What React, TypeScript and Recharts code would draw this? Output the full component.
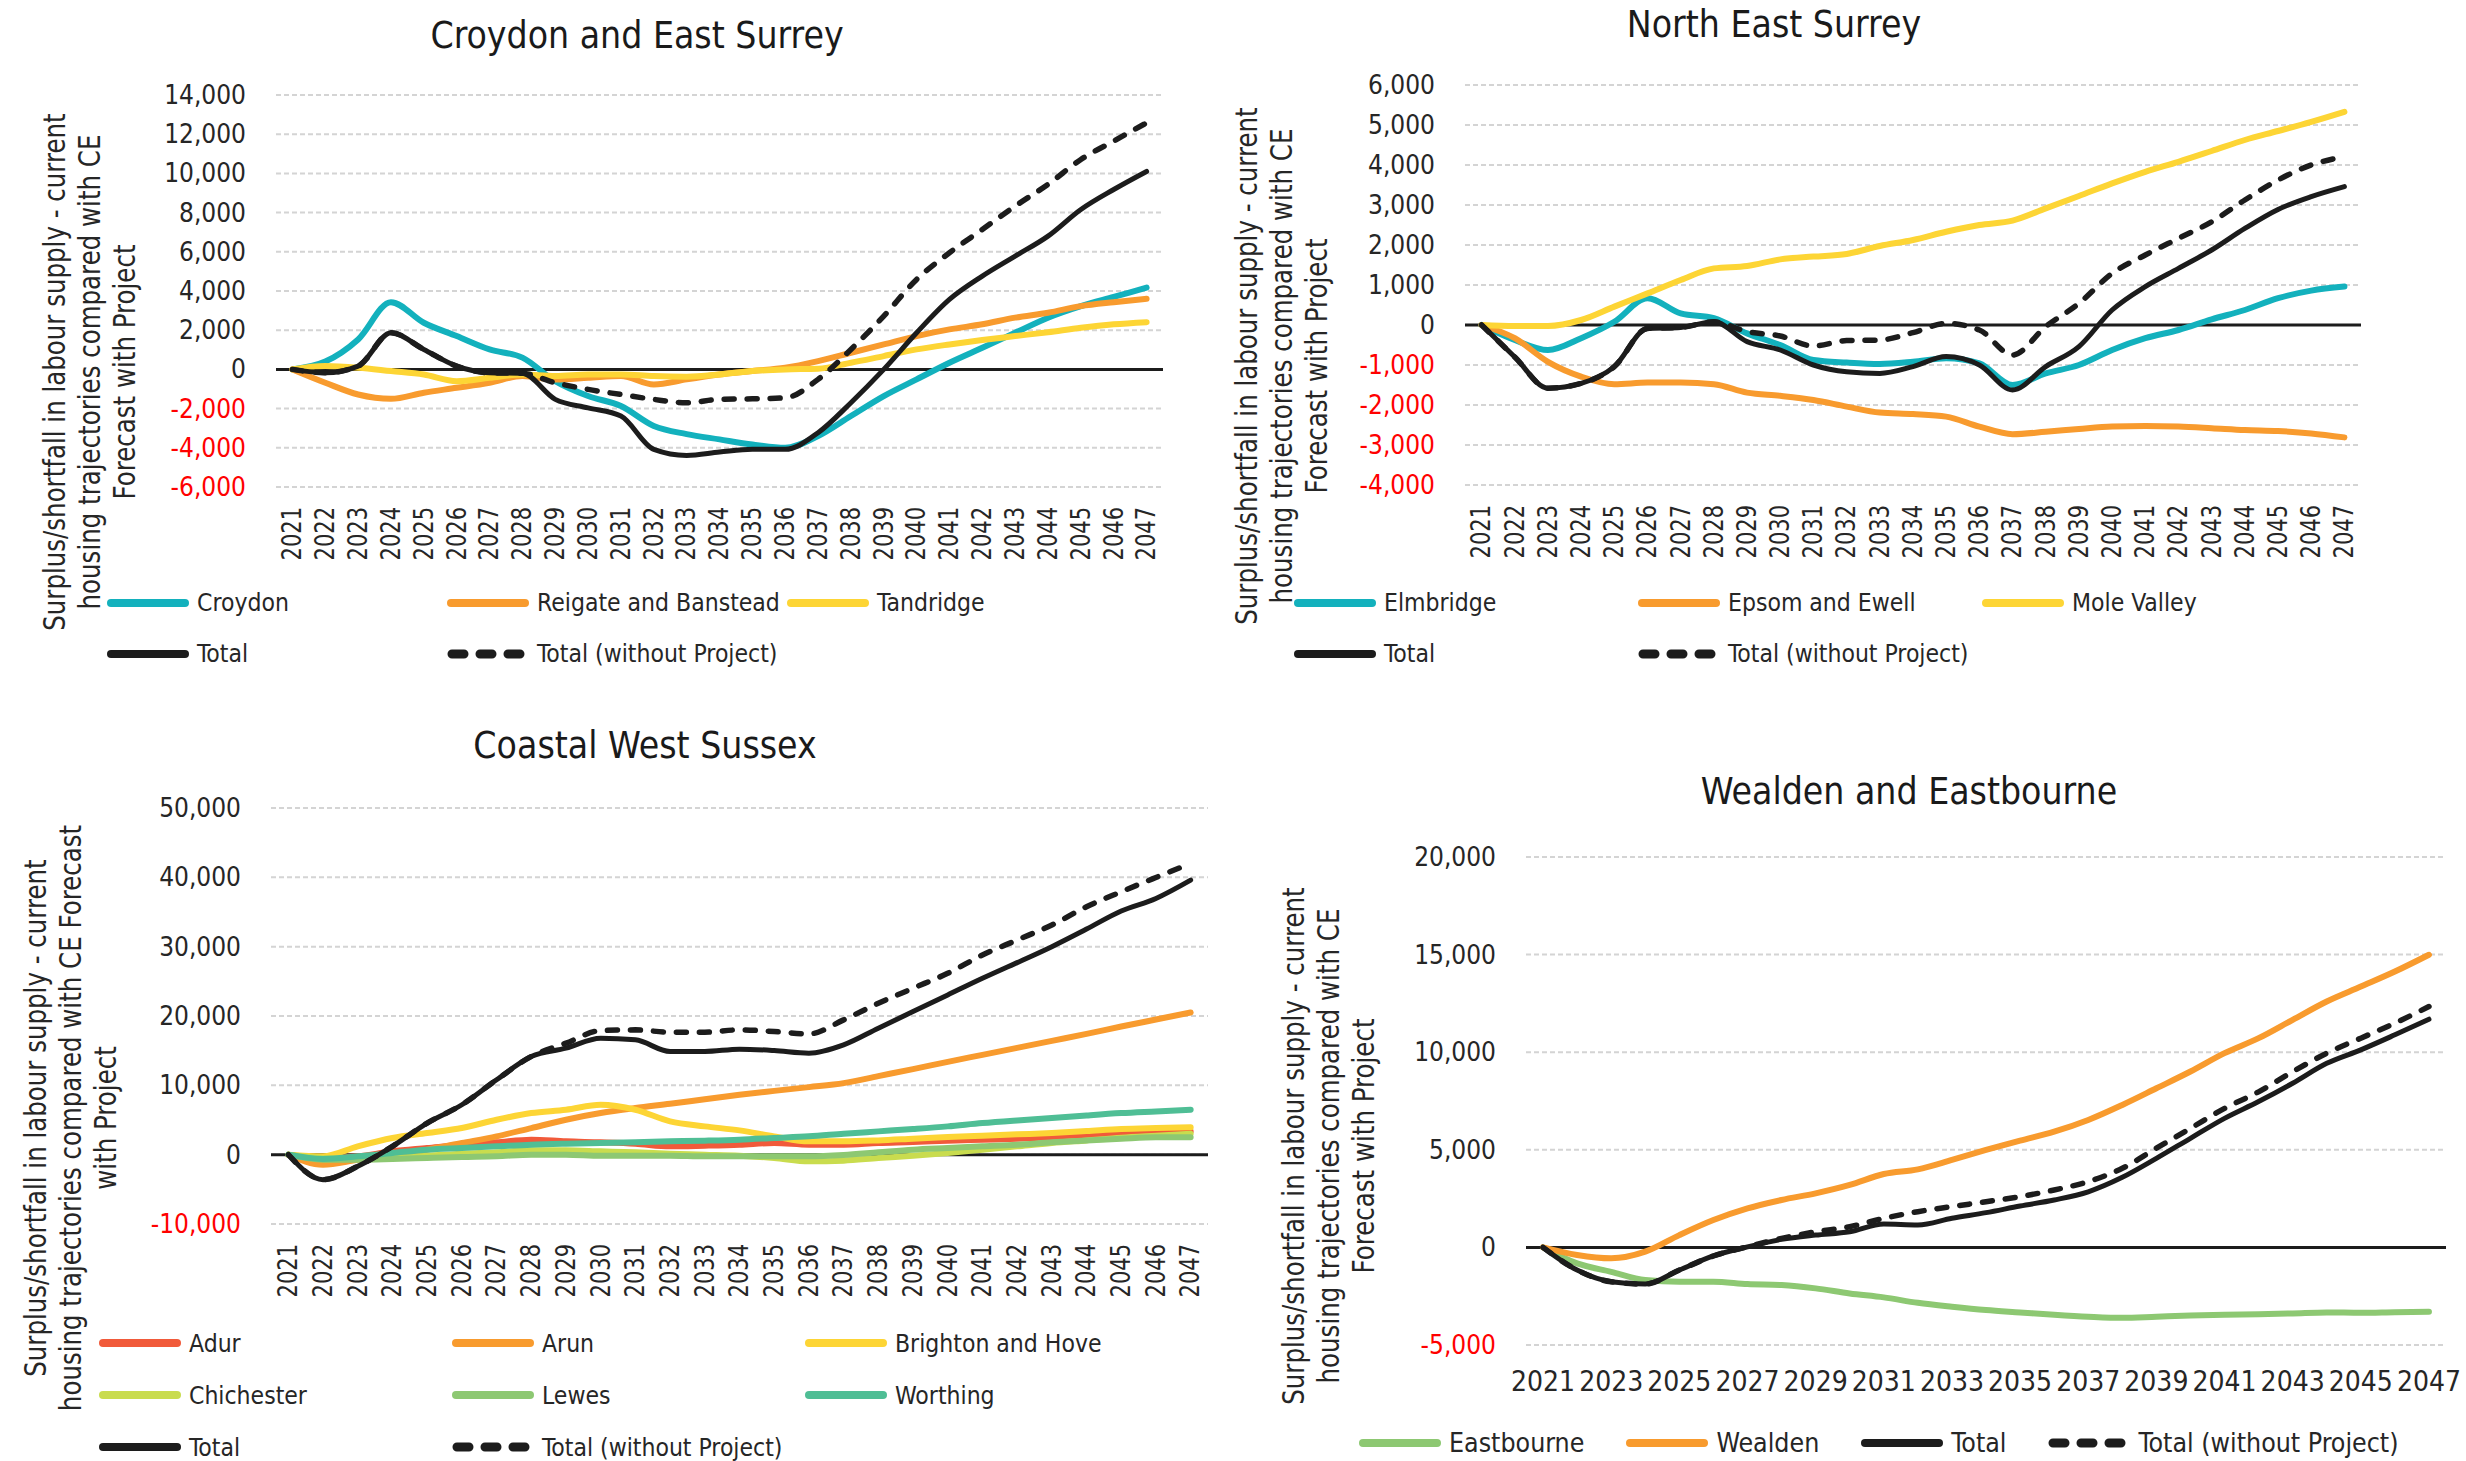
import React from "react";
import { LineChart, Line, XAxis, YAxis, CartesianGrid, ReferenceLine } from "recharts";

const YEARS = [
  "2021", "2022", "2023", "2024", "2025", "2026", "2027", "2028", "2029",
  "2030", "2031", "2032", "2033", "2034", "2035", "2036", "2037", "2038",
  "2039", "2040", "2041", "2042", "2043", "2044", "2045", "2046", "2047",
];

// Croydon and East Surrey
const CROYDON = [0, 400, 1530, 3430, 2380, 1700, 1020, 600, -600, -1360, -1870, -2890, -3300, -3570, -3830, -4000, -3400, -2380, -1360, -510, 340, 1100, 1870, 2640, 3230, 3700, 4170];
const REIGATE = [0, -680, -1280, -1500, -1190, -940, -680, -340, -510, -430, -340, -770, -510, -260, -85, 85, 425, 850, 1275, 1700, 2040, 2300, 2640, 2890, 3230, 3430, 3600];
const TANDRIDGE = [0, 170, 85, -85, -260, -600, -430, -260, -340, -260, -260, -340, -370, -260, -85, 0, 35, 340, 680, 1020, 1275, 1500, 1700, 1900, 2125, 2300, 2410];
const CES_TOTAL = [0, -170, 170, 1870, 1020, 170, -170, -200, -1530, -1960, -2380, -4080, -4390, -4220, -4080, -4080, -3230, -1700, 0, 1870, 3570, 4760, 5780, 6800, 8160, 9180, 10100];
const CES_NOPROJ = [0, -170, 170, 1870, 1020, 170, -170, -200, -680, -1020, -1280, -1530, -1700, -1530, -1500, -1450, -510, 1020, 2720, 4590, 5950, 7140, 8330, 9440, 10710, 11650, 12580];
const CES_TICKS = [-6000, -4000, -2000, 0, 2000, 4000, 6000, 8000, 10000, 12000, 14000];

// North East Surrey
const ELMBRIDGE = [0, -375, -625, -330, 80, 670, 290, 170, -210, -500, -875, -940, -975, -920, -830, -960, -1500, -1210, -1000, -625, -330, -125, 140, 375, 670, 860, 960];
const EPSOM = [0, -330, -920, -1290, -1480, -1440, -1440, -1480, -1690, -1770, -1875, -2040, -2190, -2225, -2290, -2540, -2730, -2670, -2600, -2540, -2525, -2540, -2580, -2625, -2650, -2710, -2810];
const MOLE_VALLEY = [0, -25, -25, 125, 460, 790, 1125, 1415, 1475, 1640, 1710, 1775, 1975, 2125, 2330, 2500, 2610, 2915, 3225, 3540, 3830, 4080, 4350, 4625, 4850, 5080, 5330];
const NES_TOTAL = [0, -800, -1580, -1460, -1040, -85, -60, 80, -415, -625, -1000, -1170, -1210, -1040, -790, -1000, -1625, -1040, -540, 375, 960, 1415, 1875, 2415, 2890, 3210, 3460];
const NES_NOPROJ = [0, -800, -1580, -1460, -1040, -85, -60, 80, -165, -275, -525, -390, -375, -190, 40, -125, -750, -40, 540, 1290, 1750, 2165, 2580, 3125, 3625, 4000, 4210];
const NES_TICKS = [-4000, -3000, -2000, -1000, 0, 1000, 2000, 3000, 4000, 5000, 6000];

// Coastal West Sussex
const ADUR = [0, -480, -240, 480, 960, 1440, 1780, 2160, 1920, 1780, 1580, 1200, 1300, 1440, 1680, 1440, 1440, 1680, 1820, 2020, 2160, 2300, 2500, 2740, 3020, 3120, 3360];
const ARUN = [0, -1440, -720, 0, 720, 1680, 2640, 3840, 5040, 6000, 6720, 7340, 8000, 8640, 9200, 9740, 10320, 11330, 12340, 13390, 14400, 15410, 16420, 17420, 18480, 19490, 20500];
const BRIGHTON = [0, -240, 1200, 2400, 3120, 3840, 5040, 6000, 6480, 7200, 6480, 4800, 4080, 3500, 2640, 1920, 1920, 2060, 2300, 2540, 2740, 2930, 3120, 3400, 3700, 3840, 3940];
const CHICHESTER = [0, -480, -620, -480, -150, 150, 340, 620, 620, 480, 340, 150, 0, -150, -480, -960, -860, -480, -150, 240, 720, 1200, 1680, 2060, 2450, 2740, 3020];
const LEWES = [0, -720, -720, -620, -480, -340, -240, 0, 0, -150, -150, -150, -240, -240, -240, -240, -50, 340, 720, 960, 1200, 1440, 1780, 2060, 2300, 2500, 2500];
const WORTHING = [0, -620, -240, 240, 720, 960, 1200, 1440, 1580, 1680, 1780, 1920, 2020, 2160, 2400, 2640, 3020, 3360, 3700, 4080, 4560, 4940, 5280, 5660, 6000, 6240, 6480];
const CWS_TOTAL = [0, -3600, -1680, 1200, 4560, 7200, 10800, 14160, 15360, 16800, 16560, 14880, 14880, 15220, 15020, 14640, 15840, 18240, 20640, 23040, 25440, 27700, 30000, 32540, 35140, 36960, 39600];
const CWS_NOPROJ = [0, -3600, -1680, 1200, 4560, 7200, 10800, 14160, 16080, 17900, 18000, 17660, 17660, 18000, 17760, 17420, 19440, 21840, 24000, 26160, 28800, 30960, 33120, 35760, 37920, 39980, 42000];
const CWS_TICKS = [-10000, 0, 10000, 20000, 30000, 40000, 50000];

// Wealden and Eastbourne
const EASTBOURNE = [0, -820, -1250, -1670, -1760, -1760, -1880, -1930, -2100, -2360, -2560, -2840, -3040, -3210, -3330, -3450, -3550, -3610, -3550, -3490, -3450, -3420, -3380, -3330, -3350, -3320, -3300];
const WEALDEN = [0, -390, -560, -220, 630, 1400, 2000, 2430, 2770, 3200, 3760, 4000, 4480, 4990, 5470, 5930, 6530, 7300, 8150, 9010, 9950, 10720, 11660, 12600, 13360, 14130, 14990];
const WE_TOTAL = [0, -1160, -1760, -1880, -1160, -440, 30, 410, 630, 800, 1200, 1150, 1490, 1780, 2120, 2430, 2850, 3590, 4560, 5590, 6610, 7470, 8410, 9430, 10120, 10890, 11690];
const WE_NOPROJ = [0, -1160, -1760, -1880, -1160, -440, 30, 460, 800, 1060, 1490, 1830, 2090, 2340, 2600, 2940, 3370, 4050, 5080, 6100, 7120, 7970, 9000, 9950, 10720, 11490, 12340];
const WE_TICKS = [-5000, 0, 5000, 10000, 15000, 20000];

const TEAL = "#13b1bd";
const ORANGE = "#f89b2e";
const YELLOW = "#fdd535";
const BLACK = "#1c1c1c";

const NARROW = "'Liberation Sans Narrow', 'DejaVu Sans Condensed', 'Liberation Sans', sans-serif";
const WIDE = "'DejaVu Sans', sans-serif";
const TEXT = "#262626";

type Series = { key: string; name: string; color: string; values: number[]; dashed?: boolean; width?: number };

const fmt = (v: number) => v.toLocaleString("en-US");

const YTick = ({ x, y, payload }: any) => (
  <text x={x} y={y} textAnchor="end" dominantBaseline="central" fontFamily={NARROW} fontSize={26}
    fill={payload.value < 0 ? "#ff0000" : TEXT}>
    {fmt(payload.value)}
  </text>
);

const RotTick = ({ x, y, payload }: any) => (
  <g transform={`translate(${x},${y + 12}) rotate(-90) scale(1,1.25)`}>
    <text x={0} y={0} textAnchor="end" dominantBaseline="central" fontFamily={WIDE} fontSize={21} fill={TEXT}>
      {payload.value}
    </text>
  </g>
);

const FlatTick = ({ x, y, payload }: any) => (
  <text x={x} y={y + 28} textAnchor="middle" dominantBaseline="central" fontFamily={NARROW} fontSize={28} fill={TEXT}>
    {payload.value}
  </text>
);

const Swatch = ({ color, dashed }: { color: string; dashed?: boolean }) => (
  <svg width={82} height={12} style={{ flex: "none" }}>
    {dashed ? (
      <line x1={5} y1={6} x2={77} y2={6} stroke={color} strokeWidth={9} strokeLinecap="round" strokeDasharray="12 16" />
    ) : (
      <line x1={4} y1={6} x2={78} y2={6} stroke={color} strokeWidth={8} strokeLinecap="round" />
    )}
  </svg>
);

const LegendItem = ({ s, size }: { s: Series; size: number }) => (
  <div style={{ display: "flex", alignItems: "center", gap: 8, whiteSpace: "nowrap" }}>
    <Swatch color={s.color} dashed={s.dashed} />
    <span style={{ fontFamily: NARROW, fontSize: size, color: TEXT }}>{s.name}</span>
  </div>
);

type PanelProps = {
  title: string;
  titleX: number;
  titleY: number;
  box: { left: number; top: number; width: number; height: number };
  plot: { x1: number; y1: number; x2: number; y2: number };
  ticks: number[];
  series: Series[];
  rotated: boolean;
  axisTitle: string[];
  axisTitleX: number;
  axisTitleY: number;
  legend: { left: number; top: number; columns?: number; colWidth?: number; rowHeight?: number; gap?: number; size?: number };
};

const Panel = (p: PanelProps) => {
  const data = YEARS.map((year, i) => {
    const row: Record<string, any> = { year };
    p.series.forEach((s) => (row[s.key] = s.values[i]));
    return row;
  });
  const xH = p.rotated ? 75 : 60;
  const margin = {
    top: p.plot.y1 - p.box.top,
    right: p.box.left + p.box.width - p.plot.x2,
    left: 0,
    bottom: p.box.top + p.box.height - p.plot.y2 - xH,
  };
  return (
    <>
      <div style={{
        position: "absolute", left: p.titleX, top: p.titleY, transform: "translate(-50%,-50%)",
        fontFamily: NARROW, fontSize: 37, color: "#1a1a1a", whiteSpace: "nowrap",
      }}>{p.title}</div>
      <div style={{
        position: "absolute", left: p.axisTitleX, top: p.axisTitleY,
        transform: "translate(-50%,-50%) rotate(-90deg) scaleY(1.2)",
        fontFamily: WIDE, fontSize: 24.5, lineHeight: "29px", color: TEXT, textAlign: "center", whiteSpace: "nowrap",
      }}>
        {p.axisTitle.map((l) => <div key={l}>{l}</div>)}
      </div>
      <div style={{ position: "absolute", left: p.box.left, top: p.box.top }}>
        <LineChart width={p.box.width} height={p.box.height} data={data} margin={margin}>
          <CartesianGrid vertical={false} stroke="#d4d4d4" strokeWidth={2} strokeDasharray="5 3" />
          <XAxis dataKey="year" scale="band" axisLine={false} tickLine={false} height={xH}
            interval={p.rotated ? 0 : 1} tick={p.rotated ? <RotTick /> : <FlatTick />} />
          <YAxis type="number" domain={[p.ticks[0], p.ticks[p.ticks.length - 1]]} ticks={p.ticks} interval={0}
            width={p.plot.x1 - p.box.left} axisLine={false} tickLine={false} tick={<YTick />} tickMargin={24} />
          <ReferenceLine y={0} stroke={BLACK} strokeWidth={3} />
          {p.series.map((s) => (
            <Line key={s.key} type="monotone" dataKey={s.key} name={s.name} stroke={s.color}
              strokeWidth={s.width ?? 6} dot={false} activeDot={false} isAnimationActive={false}
              strokeDasharray={s.dashed ? "10 13" : undefined} strokeLinecap="round" strokeLinejoin="round" />
          ))}
        </LineChart>
      </div>
      <div style={{
        position: "absolute", left: p.legend.left, top: p.legend.top,
        display: p.legend.columns ? "grid" : "flex",
        gridTemplateColumns: p.legend.columns ? `repeat(${p.legend.columns}, ${p.legend.colWidth}px)` : undefined,
        gridAutoRows: p.legend.rowHeight, alignItems: "center", gap: p.legend.gap ?? 0,
      }}>
        {p.series.map((s) => <LegendItem key={s.key} s={s} size={p.legend.size ?? 24.5} />)}
      </div>
    </>
  );
};

const AXIS_TITLE_3 = ["Surplus/shortfall in labour supply - current", "housing trajectories compared with CE", "Forecast with Project"];

export default function App() {
  return (
    <div style={{ position: "absolute", left: 0, top: 0, width: 2466, height: 1461, background: "#fff", overflow: "hidden" }}>
      <Panel
        title="Croydon and East Surrey" titleX={637} titleY={35}
        box={{ left: 0, top: 60, width: 1200, height: 520 }}
        plot={{ x1: 276, y1: 95, x2: 1163, y2: 487 }}
        ticks={CES_TICKS} rotated
        axisTitle={AXIS_TITLE_3} axisTitleX={90} axisTitleY={372}
        legend={{ left: 107, top: 577, columns: 3, colWidth: 340, rowHeight: 51 }}
        series={[
          { key: "croydon", name: "Croydon", color: TEAL, values: CROYDON },
          { key: "reigate", name: "Reigate and Banstead", color: ORANGE, values: REIGATE },
          { key: "tandridge", name: "Tandridge", color: YELLOW, values: TANDRIDGE },
          { key: "total", name: "Total", color: BLACK, values: CES_TOTAL, width: 5 },
          { key: "noproj", name: "Total (without Project)", color: BLACK, values: CES_NOPROJ, dashed: true, width: 5.5 },
        ]}
      />
      <Panel
        title="North East Surrey" titleX={1774} titleY={24}
        box={{ left: 1200, top: 50, width: 1266, height: 520 }}
        plot={{ x1: 1465, y1: 85, x2: 2361, y2: 485 }}
        ticks={NES_TICKS} rotated
        axisTitle={AXIS_TITLE_3} axisTitleX={1282} axisTitleY={366}
        legend={{ left: 1294, top: 577, columns: 3, colWidth: 344, rowHeight: 51 }}
        series={[
          { key: "elmbridge", name: "Elmbridge", color: TEAL, values: ELMBRIDGE },
          { key: "epsom", name: "Epsom and Ewell", color: ORANGE, values: EPSOM },
          { key: "mole", name: "Mole Valley", color: YELLOW, values: MOLE_VALLEY },
          { key: "total", name: "Total", color: BLACK, values: NES_TOTAL, width: 5 },
          { key: "noproj", name: "Total (without Project)", color: BLACK, values: NES_NOPROJ, dashed: true, width: 5.5 },
        ]}
      />
      <Panel
        title="Coastal West Sussex" titleX={645} titleY={745}
        box={{ left: 0, top: 770, width: 1240, height: 540 }}
        plot={{ x1: 271, y1: 808, x2: 1208, y2: 1224 }}
        ticks={CWS_TICKS} rotated
        axisTitle={["Surplus/shortfall in labour supply - current", "housing trajectories compared with CE Forecast", "with Project"]}
        axisTitleX={71} axisTitleY={1118}
        legend={{ left: 99, top: 1317, columns: 3, colWidth: 353, rowHeight: 52 }}
        series={[
          { key: "adur", name: "Adur", color: "#f15a3a", values: ADUR },
          { key: "arun", name: "Arun", color: ORANGE, values: ARUN },
          { key: "brighton", name: "Brighton and Hove", color: YELLOW, values: BRIGHTON },
          { key: "chichester", name: "Chichester", color: "#c9dc4e", values: CHICHESTER },
          { key: "lewes", name: "Lewes", color: "#8dc872", values: LEWES },
          { key: "worthing", name: "Worthing", color: "#4fbe95", values: WORTHING },
          { key: "total", name: "Total", color: BLACK, values: CWS_TOTAL, width: 5 },
          { key: "noproj", name: "Total (without Project)", color: BLACK, values: CWS_NOPROJ, dashed: true, width: 5.5 },
        ]}
      />
      <Panel
        title="Wealden and Eastbourne" titleX={1909} titleY={791}
        box={{ left: 1250, top: 820, width: 1216, height: 600 }}
        plot={{ x1: 1526, y1: 857, x2: 2446, y2: 1345 }}
        ticks={WE_TICKS} rotated={false}
        axisTitle={AXIS_TITLE_3} axisTitleX={1329} axisTitleY={1146}
        legend={{ left: 1359, top: 1427, gap: 42, size: 26.5 }}
        series={[
          { key: "eastbourne", name: "Eastbourne", color: "#8dc872", values: EASTBOURNE },
          { key: "wealden", name: "Wealden", color: ORANGE, values: WEALDEN },
          { key: "total", name: "Total", color: BLACK, values: WE_TOTAL, width: 5 },
          { key: "noproj", name: "Total (without Project)", color: BLACK, values: WE_NOPROJ, dashed: true, width: 5.5 },
        ]}
      />
    </div>
  );
}
